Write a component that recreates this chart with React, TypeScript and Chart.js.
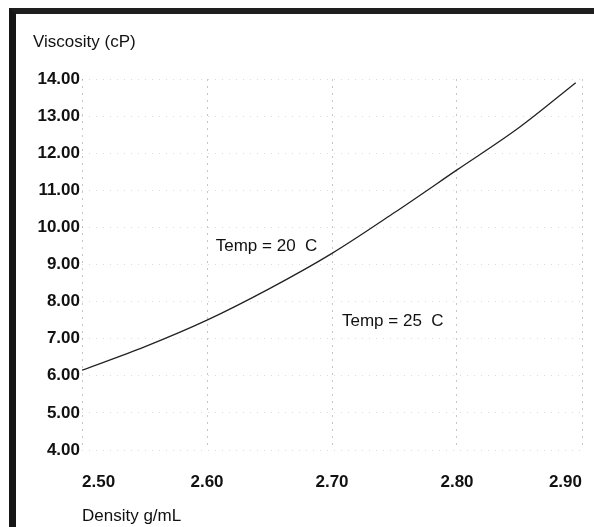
import React, { useEffect, useRef } from "react";
import { Chart, registerables } from "chart.js";

Chart.register(...registerables);

// Data
const densities = [2.5, 2.55, 2.6, 2.65, 2.7, 2.75, 2.8, 2.85, 2.895];
const viscosities = [6.15, 6.78, 7.5, 8.35, 9.3, 10.4, 11.55, 12.7, 13.9];

const xTicks = [2.5, 2.6, 2.7, 2.8, 2.9];
const yTicks = [4, 5, 6, 7, 8, 9, 10, 11, 12, 13, 14];

const yAxisTitle = "Viscosity (cP)";
const xAxisTitle = "Density g/mL";

const annotationTexts = ["Temp = 20  C", "Temp = 25  C"];
const annotationX = [2.607, 2.708];
const annotationY = [9.5, 7.46];

const FONT = "'Liberation Sans', Arial, sans-serif";
const INK = "#111111";

const textPlugin = {
  id: "extraText",
  afterDraw(chart: any) {
    const ctx = chart.ctx;
    const xs = chart.scales.x;
    const ys = chart.scales.y;
    const area = chart.chartArea;
    ctx.save();
    ctx.fillStyle = INK;
    ctx.font = `17px ${FONT}`;
    ctx.textBaseline = "middle";
    ctx.textAlign = "left";
    ctx.fillText(yAxisTitle, area.left - 49, area.top - 37);
    annotationTexts.forEach((t, i) => {
      ctx.fillText(t, xs.getPixelForValue(annotationX[i]), ys.getPixelForValue(annotationY[i]));
    });
    ctx.restore();
  },
};

export default function App() {
  const ref = useRef<HTMLCanvasElement | null>(null);

  useEffect(() => {
    if (!ref.current) return;
    const chart = new Chart(ref.current, {
      type: "line",
      data: {
        datasets: [
          {
            data: densities.map((d, i) => ({ x: d, y: viscosities[i] })),
            borderColor: "#222222",
            borderWidth: 1.3,
            pointRadius: 0,
            cubicInterpolationMode: "monotone",
            fill: false,
          },
        ],
      },
      options: {
        animation: false,
        responsive: false,
        maintainAspectRatio: false,
        layout: { padding: { top: 79, right: 0, left: 0, bottom: 0 } },
        plugins: {
          legend: { display: false },
          tooltip: { enabled: false },
          title: { display: false },
        },
        scales: {
          x: {
            type: "linear",
            min: 2.5,
            max: 2.9,
            afterBuildTicks: (s: any) => {
              s.ticks = xTicks.map((v) => ({ value: v }));
            },
            afterFit: (s: any) => {
              s.height = 77;
              s.paddingRight = 12;
              s.paddingLeft = 0;
            },
            border: { display: false, dash: [2, 5] },
            grid: {
              color: "rgba(0,0,0,0.22)",
              lineWidth: 1,
              drawTicks: false,
            },
            ticks: {
              align: "inner",
              padding: 22,
              color: INK,
              font: { family: FONT, size: 17, weight: "bold" },
              maxRotation: 0,
              callback: (v: any) => Number(v).toFixed(2),
            },
            title: {
              display: true,
              text: xAxisTitle,
              align: "start",
              color: INK,
              font: { family: FONT, size: 17 },
              padding: { top: 4, bottom: 0 },
            },
          },
          y: {
            type: "linear",
            min: 4,
            max: 14,
            afterBuildTicks: (s: any) => {
              s.ticks = yTicks.map((v) => ({ value: v }));
            },
            afterFit: (s: any) => {
              s.width = 82;
            },
            border: { display: false, dash: [1, 6] },
            grid: {
              color: "rgba(0,0,0,0.14)",
              lineWidth: 1,
              drawTicks: false,
            },
            ticks: {
              padding: 2,
              color: INK,
              font: { family: FONT, size: 17, weight: "bold" },
              callback: (v: any) => Number(v).toFixed(2),
            },
          },
        },
      },
      plugins: [textPlugin],
    } as any);
    return () => chart.destroy();
  }, []);

  return (
    <div
      style={{
        position: "fixed",
        left: 0,
        top: 0,
        width: 594,
        height: 527,
        background: "#ffffff",
        overflow: "hidden",
      }}
    >
      <div
        style={{
          position: "absolute",
          left: 9,
          top: 8,
          right: 0,
          bottom: 0,
          borderLeft: "7px solid #161616",
          borderTop: "6px solid #1e1e1e",
        }}
      />
      <canvas
        ref={ref}
        width={594}
        height={527}
        style={{ position: "absolute", left: 0, top: 0, width: 594, height: 527 }}
      />
    </div>
  );
}
